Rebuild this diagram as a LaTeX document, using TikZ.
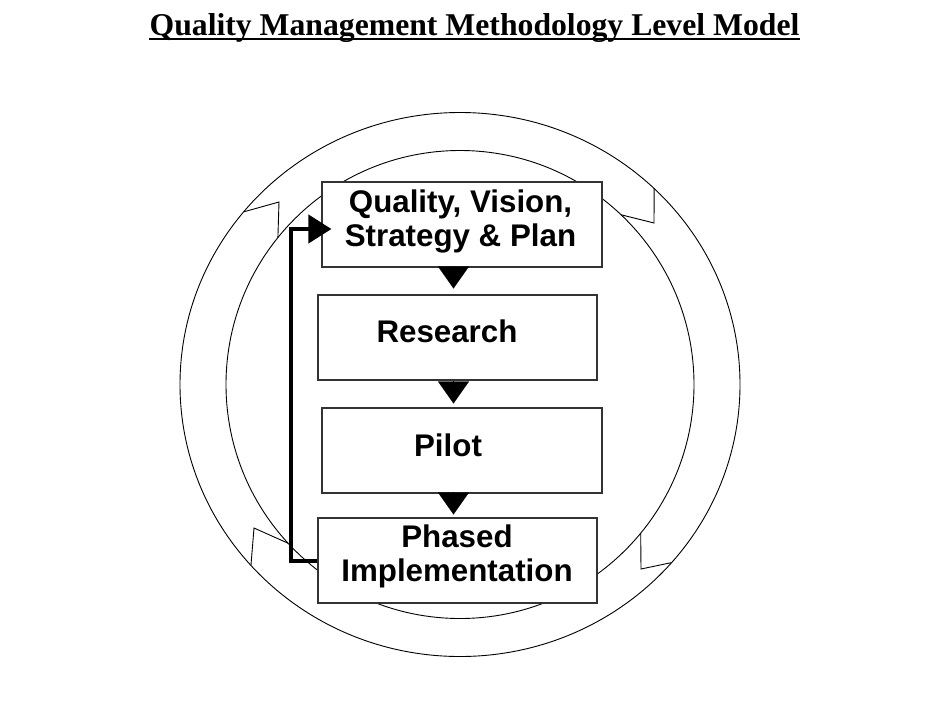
\documentclass[tikz,border=0pt]{standalone}
\usepackage{fontspec}
\setmainfont{Liberation Serif}
\setsansfont{Liberation Sans}
\usetikzlibrary{arrows.meta,calc}
\begin{document}
\begin{tikzpicture}
    [x=1pt, y=-1pt,
     box/.style={rectangle, draw=black!80, line width=1.1pt, fill=white, minimum width=279pt, minimum height=85pt, inner sep=0pt},
     lbl/.style={inner sep=0pt, align=center, font=\sffamily\bfseries\fontsize{31.3}{34.5}\selectfont},
     drop/.style={-{Triangle[length=22pt,width=31pt]}, line width=0.1pt},
     back/.style={-{Triangle[length=23pt,width=28pt]}, line width=4pt},
     ring/.style={line width=0.9pt}]
    \useasboundingbox (0,0) rectangle (950,713);
    \node[font=\rmfamily\bfseries\fontsize{31.7}{38}\selectfont, inner sep=0pt, anchor=base] (ttl) at (474.5,35) {Quality Management Methodology Level Model};
    \draw[line width=1.8pt] ([yshift=-4.3pt]ttl.base west) -- ([yshift=-4.3pt]ttl.base east);
    % ring
    \draw[ring] (460,384.5) ellipse [x radius=280, y radius=272];
    \draw[ring] (460,384.5) circle [radius=234];
    \foreach \ao/\tx/\ty/\ai in {140.6/279/202/141.1, 46.1/654/223/46.5, 221.7/254/528/222.7, 319.1/641/569/320.55}
      \draw[ring] ({460+280*cos(\ao)},{384.5-272*sin(\ao)}) -- (\tx,\ty) -- ({460+234*cos(\ai)},{384.5-234*sin(\ai)});
    \node[box, minimum width=280pt] (b1) at (462,224.5) {};
    \node[box] (b2) at (457.5,337.5) {};
    \node[box, minimum width=280pt] (b3) at (462,450.5) {};
    \node[box] (b4) at (457.5,560.5) {};
    \node[lbl] (t1) at (460.5,221.6) {Quality, Vision,\\Strategy \& Plan};
    \node[lbl] (t2) at (447,331) {Research};
    \node[lbl] (t3) at (448,445.6) {Pilot};
    \node[lbl] (t4) at (457,556.3) {Phased\\Implementation};
    \coordinate (ax) at (453.5,0);
    \foreach \u/\v/\s in {b1/b2/6, b2/b3/4, b3/b4/3}
      \draw[drop, shorten >=\s pt] (ax |- \u.south) -- (ax |- \v.north);
    \coordinate (bk) at (290.5,229);
    \draw[back, shorten >=-10pt] (b4.west) -| (bk) -- (bk -| b1.west);
\end{tikzpicture}
\end{document}
